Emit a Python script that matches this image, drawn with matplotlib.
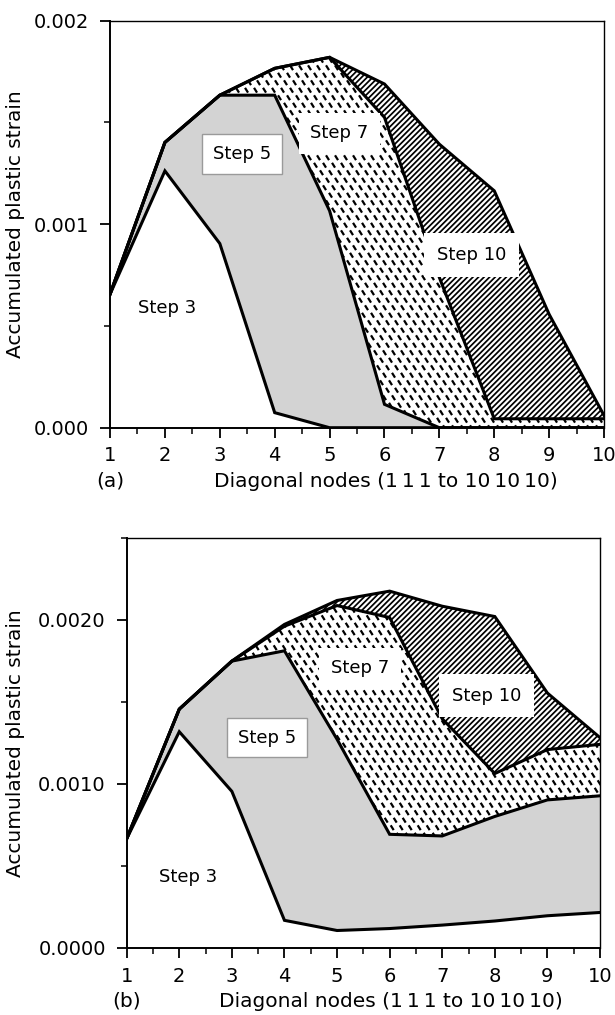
import numpy as np
import matplotlib
matplotlib.use('Agg')
import matplotlib.pyplot as plt
from matplotlib.collections import LineCollection
from matplotlib.ticker import FormatStrFormatter, MultipleLocator

plt.rcParams['font.family'] = ['DejaVu Sans']
plt.rcParams['hatch.linewidth'] = 1.25

#===================================================================#
# 1. data
nodes = [1, 2, 3, 4, 5, 6, 7, 8, 9, 10]

## (a)
a_step3 = [0.000656, 0.001262, 0.000905, 0.000074, 0.0, 0.0, 0.0, 0.0, 0.0, 0.0]
a_step5 = [0.000656, 0.001402, 0.001634, 0.001634, 0.001066, 0.000115, 0.0, 0.0, 0.0, 0.0]
a_step7 = [0.000656, 0.001402, 0.001634, 0.001766, 0.00182, 0.001525, 0.000738, 0.000044, 0.000044, 0.000044]
a_step10 = [0.000656, 0.001402, 0.001634, 0.001766, 0.00182, 0.001689, 0.001393, 0.001164, 0.000557, 0.00006]

## (b)
b_step3 = [0.000665, 0.001318, 0.000954, 0.000167, 0.000105, 0.000117, 0.000138, 0.000163, 0.000195, 0.000215]
b_step5 = [0.000665, 0.001456, 0.001749, 0.001812, 0.001272, 0.000692, 0.000682, 0.000801, 0.000902, 0.000927]
b_step7 = [0.000665, 0.001456, 0.001749, 0.001962, 0.002088, 0.002015, 0.001397, 0.001063, 0.001209, 0.001241]
b_step10 = [0.000665, 0.001456, 0.001749, 0.001973, 0.002119, 0.002176, 0.002084, 0.002021, 0.001554, 0.001282]

step_names = ['Step 3', 'Step 5', 'Step 7', 'Step 10']
a_label_pos = [(2.04, 0.000587), (3.40, 0.001344), (5.18, 0.001446), (7.59, 0.000849)]
b_label_pos = [(2.16, 0.000433), (3.67, 0.001282), (5.44, 0.001705), (7.84, 0.001538)]

#===================================================================#
# 2. drawing


def dash_fill(ax, fill):
    ## short "\" dashes on a slanted lattice, clipped to the step 7 band
    bb = ax.get_position()
    w_px = bb.width * fig.get_figwidth() * fig.dpi
    h_px = bb.height * fig.get_figheight() * fig.dpi
    segs = []
    gap = 9.0
    row_h = 7.5
    for j, yy in enumerate(np.arange(0, h_px + row_h, row_h)):
        off = (j * 3.0) % gap
        for xx in np.arange(off - gap, w_px + gap, gap):
            segs.append([(xx / w_px, (yy + 2.4) / h_px), ((xx + 3.0) / w_px, (yy - 2.4) / h_px)])
    lc = LineCollection(segs, colors='black', linewidths=1.6, transform=ax.transAxes, zorder=2)
    lc.set_clip_path(fill.get_paths()[0], ax.transData)
    ax.add_collection(lc)


def draw_panel(ax, s3, s5, s7, s10, label_pos, ytop, fmt, tag, xlab_x, tickpad):
    ax.fill_between(nodes, s3, s5, facecolor='#d3d3d3', linewidth=0, zorder=1)
    f7 = ax.fill_between(nodes, s5, s7, facecolor='white', linewidth=0, zorder=1)
    ax.fill_between(nodes, s7, s10, facecolor='white', edgecolor='black', hatch='//////',
                    linewidth=0, zorder=1)
    dash_fill(ax, f7)
    for s in [s3, s5, s7, s10]:
        ax.plot(nodes, s, color='black', linewidth=2.2, zorder=3, solid_joinstyle='miter')

    ## labels in boxes
    boxes = [None,
             dict(boxstyle='square,pad=0.6', facecolor='white', edgecolor='#9a9a9a', linewidth=1.0),
             dict(boxstyle='square,pad=0.65', facecolor='white', edgecolor='none'),
             dict(boxstyle='square,pad=0.7', facecolor='white', edgecolor='none')]
    for name, (x, y), bx in zip(step_names, label_pos, boxes):
        ax.text(x, y, name, fontsize=13, ha='center', va='center', bbox=bx, zorder=5)

    ax.set_xlim(1, 10)
    ax.set_ylim(0, ytop)
    ax.xaxis.set_major_locator(MultipleLocator(1))
    ax.xaxis.set_minor_locator(MultipleLocator(0.5))
    ax.yaxis.set_major_locator(MultipleLocator(0.001))
    ax.yaxis.set_minor_locator(MultipleLocator(0.0005))
    ax.yaxis.set_major_formatter(FormatStrFormatter(fmt))
    ax.tick_params(which='major', length=7, width=1.3, labelsize=14, pad=tickpad)
    ax.tick_params(axis='y', which='major', pad=8)
    ax.tick_params(which='minor', length=4, width=1.1)
    for sp in ax.spines.values():
        sp.set_linewidth(1.4)
    ax.spines['top'].set_linewidth(1.0)
    ax.spines['right'].set_linewidth(1.0)

    ax.set_ylabel('Accumulated plastic strain', fontsize=14.5)
    ax.set_xlabel('Diagonal nodes (1\u20091\u20091 to 10\u200910\u200910)', fontsize=14.5, va='top')
    ax.xaxis.set_label_coords(xlab_x, -0.108)
    ax.text(0.0, -0.108, tag, fontsize=14.5, ha='center', va='top', transform=ax.transAxes)


fig = plt.figure(figsize=(6.15, 10.15), dpi=100)
ax_a = fig.add_axes([0.1789, 0.5786, 0.8033, 0.401])
ax_b = fig.add_axes([0.206, 0.0663, 0.7696, 0.4036])

draw_panel(ax_a, a_step3, a_step5, a_step7, a_step10, a_label_pos, 0.002, '%.3f', '(a)', 0.559, 6)
draw_panel(ax_b, b_step3, b_step5, b_step7, b_step10, b_label_pos, 0.0025, '%.4f', '(b)', 0.558, 7)
ax_a.yaxis.set_label_coords(-0.172, 0.5)
ax_b.yaxis.set_label_coords(-0.215, 0.5)

fig.savefig('out.png', dpi=100)
